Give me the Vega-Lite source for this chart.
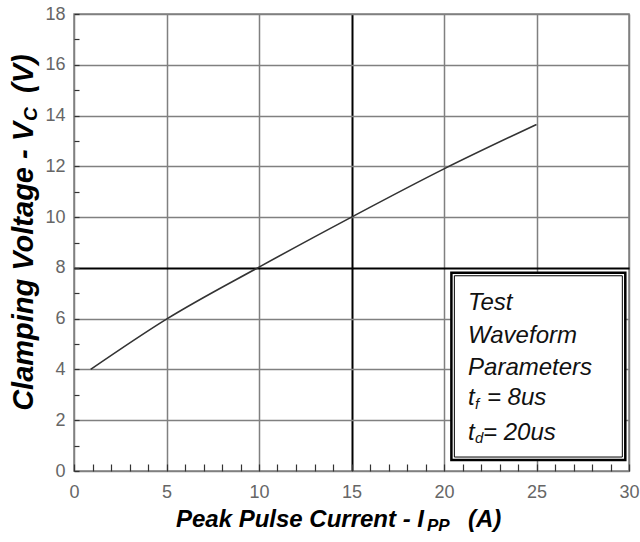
{
  "$schema": "https://vega.github.io/schema/vega-lite/v6.json",
  "width": 555,
  "height": 457,
  "autosize": {"type": "none"},
  "padding": {"left": 74, "top": 14, "right": 11, "bottom": 71},
  "background": "white",
  "config": {
    "view": {"stroke": "#808080", "strokeWidth": 1.5},
    "font": "Liberation Sans"
  },
  "datasets": {
    "curve": [
      {"x": 0.9, "y": 4.0},
      {"x": 5, "y": 5.98},
      {"x": 10, "y": 8.03},
      {"x": 15, "y": 10.0},
      {"x": 20, "y": 11.9},
      {"x": 25, "y": 13.65}
    ],
    "boxOuter": [{"x": 20.4, "x2": 29.8, "y": 7.81, "y2": 0.43}],
    "boxInner": [{"x": 20.56, "x2": 29.64, "y": 7.69, "y2": 0.55}],
    "legendMain": [
      {"t": "Test", "x": 21.3, "y": 6.34},
      {"t": "Waveform", "x": 21.3, "y": 5.06},
      {"t": "Parameters", "x": 21.3, "y": 3.78},
      {"t": "t", "x": 21.3, "y": 2.6},
      {"t": "= 8us", "x": 22.32, "y": 2.6},
      {"t": "t", "x": 21.3, "y": 1.22},
      {"t": "= 20us", "x": 22.11, "y": 1.22}
    ],
    "legendSub": [
      {"t": "f", "x": 21.68, "y": 2.44},
      {"t": "d", "x": 21.68, "y": 1.1}
    ],
    "xTitleMain": [{"t": "Peak Pulse Current - I", "x": 18.92, "y": -2.206}],
    "xTitleSub": [{"t": "PP", "x": 19.08, "y": -2.38}],
    "xTitleEnd": [{"t": "(A)", "x": 21.3, "y": -2.206}],
    "yTitleMain": [{"t": "Clamping Voltage - V", "x": -2.22, "y": 13.75}],
    "yTitleSub": [{"t": "C", "x": -1.99, "y": 13.79}],
    "yTitleEnd": [{"t": "(V)", "x": -2.22, "y": 14.89}]
  },
  "encoding": {
    "x": {
      "field": "x",
      "type": "quantitative",
      "scale": {"domain": [0, 30], "nice": false, "zero": false},
      "axis": {
        "title": null,
        "values": [0,1,2,3,4,5,6,7,8,9,10,11,12,13,14,15,16,17,18,19,20,21,22,23,24,25,26,27,28,29,30],
        "labelExpr": "datum.value % 5 === 0 ? datum.label : ''",
        "format": "d",
        "domain": false,
        "grid": true,
        "gridColor": {"condition": {"test": "datum.value === 15", "value": "#000000"}, "value": "#808080"},
        "gridOpacity": {"condition": {"test": "datum.value % 5 === 0", "value": 1}, "value": 0},
        "gridWidth": {"condition": {"test": "datum.value === 15", "value": 2}, "value": 1.5},
        "ticks": true,
        "tickSize": -7,
        "tickColor": "#333333",
        "tickWidth": 1.2,
        "labelFont": "Liberation Sans",
        "labelFontSize": 18,
        "labelColor": "#666666",
        "labelPadding": 19,
        "labelFlush": false,
        "labelOverlap": false
      }
    },
    "y": {
      "field": "y",
      "type": "quantitative",
      "scale": {"domain": [0, 18], "nice": false, "zero": false},
      "axis": {
        "title": null,
        "values": [0,0.5,1,1.5,2,2.5,3,3.5,4,4.5,5,5.5,6,6.5,7,7.5,8,8.5,9,9.5,10,10.5,11,11.5,12,12.5,13,13.5,14,14.5,15,15.5,16,16.5,17,17.5,18],
        "labelExpr": "datum.value % 2 === 0 ? datum.label : ''",
        "format": "d",
        "domain": false,
        "grid": true,
        "gridColor": {"condition": {"test": "datum.value === 8", "value": "#000000"}, "value": "#808080"},
        "gridOpacity": {"condition": {"test": "datum.value % 2 === 0", "value": 1}, "value": 0},
        "gridWidth": {"condition": {"test": "datum.value === 8", "value": 2}, "value": 1.5},
        "ticks": true,
        "tickSize": -5,
        "tickColor": "#333333",
        "tickWidth": 1.2,
        "labelFont": "Liberation Sans",
        "labelFontSize": 18,
        "labelColor": "#666666",
        "labelPadding": 14,
        "labelFlush": false,
        "labelOverlap": false
      }
    }
  },
  "layer": [
    {
      "data": {"name": "curve"},
      "mark": {"type": "line", "color": "#333333", "strokeWidth": 1.6, "interpolate": "monotone"}
    },
    {
      "data": {"name": "boxOuter"},
      "mark": {"type": "rect", "fill": "white", "stroke": "#000000", "strokeWidth": 2.5},
      "encoding": {"x2": {"field": "x2"}, "y2": {"field": "y2"}}
    },
    {
      "data": {"name": "boxInner"},
      "mark": {"type": "rect", "fill": null, "fillOpacity": 0, "stroke": "#000000", "strokeWidth": 1},
      "encoding": {"x2": {"field": "x2"}, "y2": {"field": "y2"}}
    },
    {
      "data": {"name": "legendMain"},
      "mark": {"type": "text", "align": "left", "baseline": "alphabetic", "font": "Liberation Sans", "fontSize": 24, "fontStyle": "italic", "color": "#111111"},
      "encoding": {"text": {"field": "t"}}
    },
    {
      "data": {"name": "legendSub"},
      "mark": {"type": "text", "align": "left", "baseline": "alphabetic", "font": "Liberation Sans", "fontSize": 15, "fontStyle": "italic", "color": "#111111"},
      "encoding": {"text": {"field": "t"}}
    },
    {
      "data": {"name": "xTitleMain"},
      "mark": {"type": "text", "align": "right", "baseline": "alphabetic", "font": "Liberation Sans", "fontSize": 24, "fontStyle": "italic", "fontWeight": "bold", "color": "#000000"},
      "encoding": {"text": {"field": "t"}}
    },
    {
      "data": {"name": "xTitleSub"},
      "mark": {"type": "text", "align": "left", "baseline": "alphabetic", "font": "Liberation Sans", "fontSize": 17, "fontStyle": "italic", "fontWeight": "bold", "color": "#000000"},
      "encoding": {"text": {"field": "t"}}
    },
    {
      "data": {"name": "xTitleEnd"},
      "mark": {"type": "text", "align": "left", "baseline": "alphabetic", "font": "Liberation Sans", "fontSize": 24, "fontStyle": "italic", "fontWeight": "bold", "color": "#000000"},
      "encoding": {"text": {"field": "t"}}
    },
    {
      "data": {"name": "yTitleMain"},
      "mark": {"type": "text", "angle": 270, "align": "right", "baseline": "alphabetic", "font": "Liberation Sans", "fontSize": 29, "fontStyle": "italic", "fontWeight": "bold", "color": "#000000"},
      "encoding": {"text": {"field": "t"}}
    },
    {
      "data": {"name": "yTitleSub"},
      "mark": {"type": "text", "angle": 270, "align": "left", "baseline": "alphabetic", "font": "Liberation Sans", "fontSize": 19, "fontStyle": "italic", "fontWeight": "bold", "color": "#000000"},
      "encoding": {"text": {"field": "t"}}
    },
    {
      "data": {"name": "yTitleEnd"},
      "mark": {"type": "text", "angle": 270, "align": "left", "baseline": "alphabetic", "font": "Liberation Sans", "fontSize": 29, "fontStyle": "italic", "fontWeight": "bold", "color": "#000000"},
      "encoding": {"text": {"field": "t"}}
    }
  ]
}
